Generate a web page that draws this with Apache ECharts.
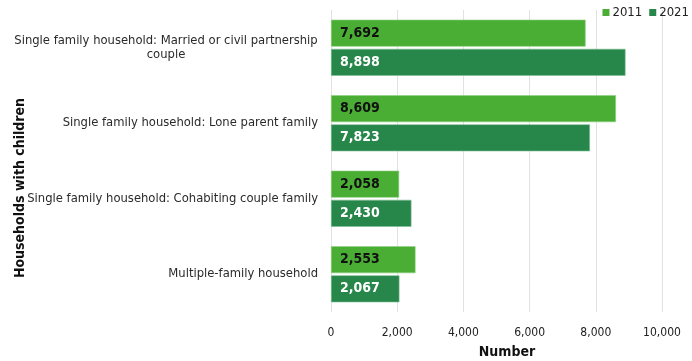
<!DOCTYPE html>
<html>
<head>
<meta charset="utf-8">
<script src="https://cdn.jsdelivr.net/npm/echarts@6/dist/echarts.min.js"></script>
<style>
html,body{margin:0;padding:0;background:#fff;}
#chart{width:692px;height:361px;}
</style>
</head>
<body>
<div id="chart"></div>
<script>
const categories = [
  "Single family household: Married or civil partnership\ncouple",
  "Single family household: Lone parent family",
  "Single family household: Cohabiting couple family",
  "Multiple-family household"
];
const values2011 = [7692, 8609, 2058, 2553];
const values2021 = [8898, 7823, 2430, 2067];
const xTicks = [0, 2000, 4000, 6000, 8000, 10000];
const seriesNames = ["2011", "2021"];
const yAxisTitle = "Households with children";
const xAxisTitle = "Number";

const FONT = "'DejaVu Sans Condensed', 'DejaVu Sans', sans-serif";
const CAT_FONT = "'DejaVu Sans', sans-serif";
const CAT_SIZE = 11.6;
const fmt = v => v.toLocaleString('en-GB');

// measure widest line of the wrapped label so its lines can be centred
const ctx = document.createElement('canvas').getContext('2d');
ctx.font = CAT_SIZE + "px " + CAT_FONT;
const firstLineW = Math.ceil(Math.max(...categories[0].split('\n').map(s => ctx.measureText(s).width)));

const chart = echarts.init(document.getElementById('chart'));
chart.setOption({
  animation: false,
  textStyle: { fontFamily: FONT },
  legend: {
    data: seriesNames,
    right: -2, top: 1,
    itemWidth: 7, itemHeight: 7, itemGap: 7,
    icon: 'rect',
    itemStyle: { borderWidth: 0 },
    textStyle: { fontSize: 13, color: '#222', fontFamily: FONT, padding: [0,0,0,-2] }
  },
  grid: { left: 331, right: 30, top: 10, bottom: 49, containLabel: false },
  xAxis: {
    type: 'value', min: xTicks[0], max: xTicks[xTicks.length-1], interval: 2000,
    axisLine: { show: false }, axisTick: { show: false },
    splitLine: { show: true, lineStyle: { color: '#e2e2e2', width: 1 } },
    axisLabel: { fontSize: 12, color: '#222', margin: 15, fontFamily: FONT, formatter: v => fmt(v) }
  },
  yAxis: {
    type: 'category', data: categories, inverse: true,
    axisLine: { show: false }, axisTick: { show: false },
    axisLabel: {
      margin: 13, fontSize: CAT_SIZE, color: '#2a2a2a', fontFamily: CAT_FONT, lineHeight: 14,
      formatter: (v, i) => v.indexOf('\n') >= 0 ? '{c|' + v + '}' : v,
      rich: { c: { width: firstLineW, align: 'center', fontSize: CAT_SIZE, color: '#2a2a2a', fontFamily: CAT_FONT, lineHeight: 14 } }
    }
  },
  graphic: [
    { type: 'text', x: 20, y: 188, rotation: Math.PI/2,
      style: { text: yAxisTitle, font: "bold 14px " + FONT, fill: '#111', align: 'center', verticalAlign: 'middle' } },
    { type: 'text', x: 507, y: 352,
      style: { text: xAxisTitle, font: "bold 14px " + FONT, fill: '#111', align: 'center', verticalAlign: 'middle' } }
  ],
  series: [
    { name: seriesNames[0], type: 'bar', data: values2011, barWidth: 27, barGap: '8%',
      itemStyle: { color: '#4aae35', borderColor: '#8fd07f', borderWidth: 0.6 },
      label: { show: true, position: 'insideLeft', distance: 9, fontSize: 14, fontWeight: 'bold', color: '#111', fontFamily: FONT, formatter: p => fmt(p.value) } },
    { name: seriesNames[1], type: 'bar', data: values2021, barWidth: 27, barGap: '8%',
      itemStyle: { color: '#27864a', borderColor: '#7fbf95', borderWidth: 0.6 },
      label: { show: true, position: 'insideLeft', distance: 9, fontSize: 14, fontWeight: 'bold', color: '#fff', fontFamily: FONT, formatter: p => fmt(p.value) } }
  ]
});
</script>
</body>
</html>
